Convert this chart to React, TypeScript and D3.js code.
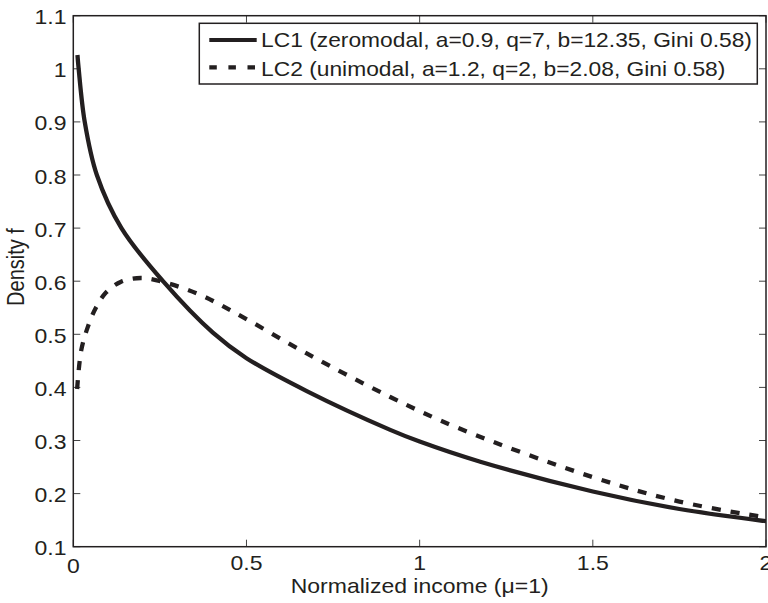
import React from "react";
import * as d3 from "d3";

// ---- data ----
const LC1_X = [0.012, 0.0155, 0.033, 0.068, 0.139, 0.259, 0.403, 0.5, 0.674, 0.915, 1.0, 1.175, 1.5, 1.75, 2.0];
const LC1_Y = [1.026, 1.0, 0.9, 0.8, 0.7, 0.6, 0.503, 0.455, 0.393, 0.32, 0.298, 0.26, 0.204, 0.171, 0.148];

const LC2_X = [0.011, 0.023, 0.042, 0.066, 0.095, 0.138, 0.195, 0.251, 0.357, 0.463, 0.674, 0.915, 1.117, 1.5, 1.75, 2.0];
const LC2_Y = [0.397, 0.47, 0.514, 0.551, 0.579, 0.599, 0.606, 0.6, 0.577, 0.542, 0.464, 0.382, 0.322, 0.231, 0.185, 0.155];

const X_TICKS = [0, 0.5, 1, 1.5, 2];
const X_TICK_LABELS = ["0", "0.5", "1", "1.5", "2"];
const Y_TICKS = [0.1, 0.2, 0.3, 0.4, 0.5, 0.6, 0.7, 0.8, 0.9, 1.0, 1.1];
const Y_TICK_LABELS = ["0.1", "0.2", "0.3", "0.4", "0.5", "0.6", "0.7", "0.8", "0.9", "1", "1.1"];

const SERIES_NAMES = [
  "LC1 (zeromodal, a=0.9, q=7, b=12.35, Gini 0.58)",
  "LC2 (unimodal, a=1.2, q=2, b=2.08, Gini 0.58)",
];
const X_LABEL = "Normalized income (\u03bc=1)";
const Y_LABEL = "Density f";

// ---- layout ----
const W = 768;
const H = 603;
const L = 73.3, R = 766, T = 15.7, B = 546.7;
const INK = "#231f20";
const FONT = "'Liberation Sans', Arial, Helvetica, sans-serif";
const FS = 20;
const SX = 1.15;

function STxt(props: { x: number; y: number; anchor?: string; sx?: number; children: React.ReactNode; rotate?: boolean }) {
  const { x, y, anchor = "start", sx = SX, children, rotate } = props;
  return (
    <text
      transform={`translate(${x},${y}) scale(${sx},1)${rotate ? " rotate(-90)" : ""}`}
      textAnchor={anchor}
      fontFamily={FONT}
      fontSize={FS}
      fill={INK}
    >
      {children}
    </text>
  );
}

export default function App() {
  const x = d3.scaleLinear().domain([0, 2]).range([L, R]);
  const y = d3.scaleLinear().domain([0.1, 1.1]).range([B, T]);
  const line = d3
    .line<[number, number]>()
    .x((d) => x(d[0]))
    .y((d) => y(d[1]))
    .curve(d3.curveCatmullRom.alpha(0.5));
  const d1 = line(LC1_X.map((v, i) => [v, LC1_Y[i]] as [number, number])) || "";
  const d2 = line(LC2_X.map((v, i) => [v, LC2_Y[i]] as [number, number])) || "";
  const TL = 7;

  const legX = 199.3, legY = 23.3, legW = 558, legH = 60.7;
  const rows = [40, 67.3];

  return (
    <svg
      width={W}
      height={H}
      style={{ position: "fixed", left: 0, top: 0, background: "#fff" }}
    >
      <rect x={0} y={0} width={W} height={H} fill="#fff" />
      <defs>
        <clipPath id="plotclip">
          <rect x={L} y={T} width={R - L} height={B - T} />
        </clipPath>
      </defs>
      {/* ticks */}
      {X_TICKS.map((t, i) => (
        <g key={"xt" + i}>
          <line x1={x(t)} x2={x(t)} y1={B} y2={B - TL} stroke="#444" strokeWidth={1} />
          <line x1={x(t)} x2={x(t)} y1={T} y2={T + TL} stroke="#444" strokeWidth={1} />
          <STxt x={x(t)} y={i === 0 ? 573 : 570} anchor="middle">{X_TICK_LABELS[i]}</STxt>
        </g>
      ))}
      {Y_TICKS.map((t, i) => (
        <g key={"yt" + i}>
          <line x1={L} x2={L + TL} y1={y(t)} y2={y(t)} stroke="#444" strokeWidth={1} />
          <line x1={R} x2={R - TL} y1={y(t)} y2={y(t)} stroke="#444" strokeWidth={1} />
          <STxt x={66.5} y={y(t) + 8.5} anchor="end">{Y_TICK_LABELS[i]}</STxt>
        </g>
      ))}
      {/* curves */}
      <g clipPath="url(#plotclip)">
        <path d={d1} fill="none" stroke={INK} strokeWidth={4.3} />
        <path d={d2} fill="none" stroke={INK} strokeWidth={4.3} strokeDasharray="9,10" />
      </g>
      {/* frame */}
      <rect x={L} y={T} width={R - L} height={B - T} fill="none" stroke={INK} strokeWidth={1.5} />
      {/* axis labels */}
      <STxt x={x(1)} y={593} anchor="middle">{X_LABEL}</STxt>
      <STxt x={24} y={267} anchor="middle" rotate>{Y_LABEL}</STxt>
      {/* legend */}
      <rect x={legX} y={legY} width={legW} height={legH} fill="#fff" stroke={INK} strokeWidth={1.5} />
      <line x1={209.3} x2={256.7} y1={rows[0]} y2={rows[0]} stroke={INK} strokeWidth={4.2} />
      <line x1={209.3} x2={256.7} y1={rows[1]} y2={rows[1]} stroke={INK} strokeWidth={4.2} strokeDasharray="7.5,11.6" />
      <STxt x={261} y={rows[0] + 7.3} sx={1.14}>{SERIES_NAMES[0]}</STxt>
      <STxt x={261} y={rows[1] + 8.4} sx={1.14}>{SERIES_NAMES[1]}</STxt>
    </svg>
  );
}
